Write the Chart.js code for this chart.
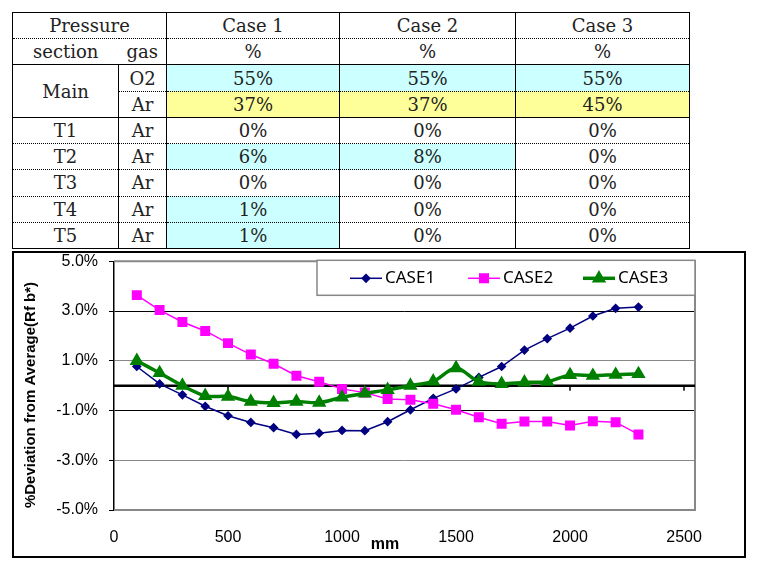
<!DOCTYPE html>
<html>
<head>
<meta charset="utf-8">
<script src="https://cdn.jsdelivr.net/npm/chart.js@4.4.1/dist/chart.umd.min.js"></script>
<style>
  body { margin: 0; background: #fff; }
  #gasTable {
    position: absolute; left: 12px; top: 12px;
    width: 677px; height: 237px;
    border-collapse: collapse; table-layout: fixed;
    font-family: "DejaVu Serif", serif; font-size: 18px; color: #222;
  }
  #gasTable td {
    padding: 0; text-align: center; vertical-align: middle;
    border-left: 1px solid #000; border-right: 1px solid #000;
    border-top: 1px dotted #000; border-bottom: 1px dotted #000;
  }
  #gasTable tr.solidBottom td, #gasTable td.solidBottom { border-bottom: 1px solid #000; }
  #gasTable tr:first-child td { border-top: 1px solid #000; }
  #gasTable tr:last-child td { border-bottom: 1px solid #000; }
  #chartBox {
    position: absolute; left: 12px; top: 251px;
    width: 734px; height: 307px; box-sizing: border-box;
    border: 2px solid #000;
  }
</style>
</head>
<body>
<table id="gasTable"></table>
<div id="chartBox"><canvas id="devChart" width="730" height="303"></canvas></div>
<script>
// table data
const caseNames = ['Case 1', 'Case 2', 'Case 3'];
const sections = ['Main', 'Main', 'T1', 'T2', 'T3', 'T4', 'T5'];
const gases = ['O2', 'Ar', 'Ar', 'Ar', 'Ar', 'Ar', 'Ar'];
const case1Pct = [55, 37, 0, 6, 0, 1, 1];
const case2Pct = [55, 37, 0, 8, 0, 0, 0];
const case3Pct = [55, 45, 0, 0, 0, 0, 0];

// chart data
const positionsMm = [100, 200, 300, 400, 500, 600, 700, 800, 900, 1000, 1100, 1200,
                     1300, 1400, 1500, 1600, 1700, 1800, 1900, 2000, 2100, 2200, 2300];
const case1Dev = [0.77, 0.07, -0.37, -0.83, -1.21, -1.48, -1.69, -1.96, -1.91, -1.80, -1.81, -1.45,
                  -0.97, -0.51, -0.13, 0.33, 0.77, 1.43, 1.89, 2.31, 2.80, 3.11, 3.16];
const case2Dev = [3.64, 3.04, 2.56, 2.20, 1.71, 1.25, 0.88, 0.40, 0.16, -0.13, -0.28, -0.54,
                  -0.57, -0.73, -0.97, -1.27, -1.53, -1.44, -1.44, -1.60, -1.43, -1.47, -1.96];
const case3Dev = [1.00, 0.51, 0.00, -0.41, -0.44, -0.64, -0.69, -0.64, -0.68, -0.47, -0.31, -0.17,
                  0.00, 0.17, 0.71, 0.16, 0.07, 0.13, 0.16, 0.43, 0.40, 0.44, 0.47];
const xTicks = [0, 500, 1000, 1500, 2000, 2500];
const yTicks = [-5, -3, -1, 1, 3, 5];

// build the table
const cyan = '#ccffff', yellow = '#ffff99';
const shade = {        // row index -> per case colour
  0: [cyan, cyan, cyan],
  1: [yellow, yellow, yellow],
  3: [cyan, cyan, ''],
  5: [cyan, '', ''],
  6: [cyan, '', '']
};
let html = '<colgroup><col style="width:106px"><col style="width:48px">' +
  '<col style="width:173px"><col style="width:176px"><col style="width:174px"></colgroup>';
html += '<tr><td colspan="2">Pressure</td>' + caseNames.map(c => '<td>' + c + '</td>').join('') + '</tr>';
html += '<tr class="solidBottom"><td style="border-right:hidden">section</td><td>gas</td>' +
  caseNames.map(() => '<td>%</td>').join('') + '</tr>';
const pcts = [case1Pct, case2Pct, case3Pct];
sections.forEach((s, i) => {
  let row = '<tr' + (i === 1 ? ' class="solidBottom"' : '') + '>';
  if (i === 0) row += '<td rowspan="2" class="solidBottom">' + s + '</td>';
  else if (i > 1) row += '<td>' + s + '</td>';
  row += '<td>' + gases[i] + '</td>';
  pcts.forEach((p, c) => {
    const bg = shade[i] && shade[i][c] ? ' style="background:' + shade[i][c] + '"' : '';
    row += '<td' + bg + '>' + p[i] + '%</td>';
  });
  html += row + '</tr>';
});
document.getElementById('gasTable').innerHTML = html;

// extra drawing: plot frame, zero axis, x labels, titles and legend
const decor = {
  id: 'decor',
  beforeDatasetsDraw(chart) {
    const { ctx, chartArea: a, scales: { x, y } } = chart;
    ctx.save();
    ctx.strokeStyle = '#888';
    ctx.lineWidth = 2;
    ctx.beginPath();
    ctx.moveTo(a.left, a.top);
    ctx.lineTo(a.right, a.top);
    ctx.lineTo(a.right, a.bottom);
    ctx.lineTo(a.left, a.bottom);
    ctx.stroke();

    const y0 = y.getPixelForValue(0);
    ctx.strokeStyle = '#000';
    ctx.lineWidth = 2.5;
    ctx.beginPath();
    ctx.moveTo(a.left, y0);
    ctx.lineTo(a.right, y0);
    ctx.stroke();
    ctx.lineWidth = 1.5;
    x.ticks.forEach(t => {
      if (t.value <= 0) return;
      const px = Math.round(x.getPixelForValue(t.value));
      ctx.beginPath();
      ctx.moveTo(px, y0);
      ctx.lineTo(px, y0 + 5);
      ctx.stroke();
    });
    ctx.restore();
  },
  afterDraw(chart) {
    const { ctx, chartArea: a, scales: { x } } = chart;

    // x tick labels at the bottom, from the x scale ticks
    ctx.save();
    ctx.fillStyle = '#000';
    ctx.font = '16px "Liberation Sans", Arial';
    ctx.textAlign = 'center';
    ctx.textBaseline = 'top';
    x.ticks.forEach(t => {
      ctx.fillText(String(t.value), x.getPixelForValue(t.value), a.bottom + 20);
    });
    ctx.restore();

    ctx.save();
    ctx.fillStyle = '#000';
    ctx.textAlign = 'center';
    ctx.textBaseline = 'middle';
    ctx.font = 'bold 15px "Liberation Sans", Arial';
    ctx.translate(17, 142);
    ctx.rotate(-Math.PI / 2);
    ctx.fillText('%Deviation from Average(Rf b*)', 0, 0);
    ctx.restore();

    ctx.save();
    ctx.fillStyle = '#000';
    ctx.font = 'bold 16px "Liberation Sans", Arial';
    ctx.textAlign = 'center';
    ctx.textBaseline = 'middle';
    ctx.fillText('mm', 371, 292);

    // legend box
    const lw = 378, lh = 35;
    const lx = a.right - lw, ly = a.top - 1;
    ctx.fillStyle = '#fff';
    ctx.fillRect(lx, ly, lw, lh);
    ctx.strokeStyle = '#888';
    ctx.lineWidth = 1.5;
    ctx.strokeRect(lx, ly, lw, lh);
    const starts = [33, 151, 266];
    const cy = ly + 18;
    chart.data.datasets.forEach((ds, i) => {
      const sx = lx + starts[i];
      ctx.strokeStyle = ds.borderColor;
      ctx.lineWidth = ds.borderWidth;
      ctx.beginPath();
      ctx.moveTo(sx, cy);
      ctx.lineTo(sx + 32, cy);
      ctx.stroke();
      ctx.fillStyle = ds.pointBackgroundColor;
      ctx.strokeStyle = ds.pointBorderColor;
      Chart.helpers.drawPoint(ctx, {
        pointStyle: ds.pointStyle, radius: ds.pointRadius, rotation: 0, borderWidth: 1
      }, sx + 16, cy);
      ctx.fillStyle = '#000';
      ctx.font = '17px "Noto Sans", Arial';
      ctx.textAlign = 'left';
      ctx.fillText(ds.label, sx + 35, cy);
    });
    ctx.restore();
  }
};

const toPoints = vals => vals.map((v, i) => ({ x: positionsMm[i], y: v }));

new Chart(document.getElementById('devChart'), {
  type: 'line',
  data: {
    datasets: [
      {
        label: 'CASE1', data: toPoints(case1Dev), order: 3,
        borderColor: '#000080', borderWidth: 1.5,
        pointStyle: 'rectRot', pointRadius: 3.8,
        pointBackgroundColor: '#000080', pointBorderColor: '#000080'
      },
      {
        label: 'CASE2', data: toPoints(case2Dev), order: 2,
        borderColor: '#ff00ff', borderWidth: 1.5,
        pointStyle: 'rect', pointRadius: 6,
        pointBackgroundColor: '#ff00ff', pointBorderColor: '#ff00ff'
      },
      {
        label: 'CASE3', data: toPoints(case3Dev), order: 1,
        borderColor: '#008000', borderWidth: 3.5, tension: 0.3,
        pointStyle: 'triangle', pointRadius: 4.8,
        pointBackgroundColor: '#008000', pointBorderColor: '#008000'
      }
    ]
  },
  options: {
    responsive: false,
    animation: false,
    layout: { padding: { top: 7, right: 49, left: 0, bottom: 0 } },
    plugins: {
      legend: { display: false },
      tooltip: { enabled: false }
    },
    scales: {
      x: {
        type: 'linear', min: 0, max: 2548,
        afterBuildTicks(axis) { axis.ticks = xTicks.map(v => ({ value: v })); },
        afterFit(axis) { axis.height = 46; },
        grid: { display: false, drawTicks: false },
        border: { display: false },
        ticks: { display: false }
      },
      y: {
        min: -5, max: 5,
        afterBuildTicks(axis) { axis.ticks = yTicks.map(v => ({ value: v })); },
        afterFit(axis) { axis.width = 100; axis.paddingTop = 0; axis.paddingBottom = 0; },
        border: { display: true, color: '#000', width: 1.5 },
        grid: {
          drawTicks: true, tickLength: 5, tickColor: '#000',
          color: c => (c.tick.value === 3 || c.tick.value === -1) ? '#000' : '#888',
          lineWidth: 1
        },
        ticks: {
          padding: 11, color: '#000',
          font: { family: '"Liberation Sans", Arial', size: 16 },
          callback: v => v.toFixed(1) + '%'
        }
      }
    }
  },
  plugins: [decor]
});
</script>
</body>
</html>
